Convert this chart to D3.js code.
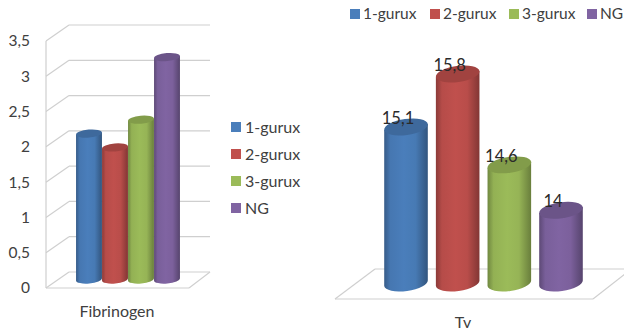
<!DOCTYPE html>
<html>
<head>
<meta charset="utf-8">
<style>
html,body{margin:0;padding:0;background:#fff}
svg{display:block}
text{font-family:Lato,"Open Sans",sans-serif;fill:#404040}
</style>
<script src="https://cdn.jsdelivr.net/npm/d3@7"></script>
</head>
<body>
<svg id="c" width="624" height="331"></svg>
<script>
// Shared series
const seriesNames = ["1-gurux", "2-gurux", "3-gurux", "NG"];
const seriesColors = ["#4a7ebb", "#c0504d", "#9bbb59", "#8064a2"];

// Fibrinogen panel
const fibrinogenValues = [2.1, 1.9, 2.3, 3.2];
const fibrinogenTicks = [0, 0.5, 1, 1.5, 2, 2.5, 3, 3.5];

// Tv panel
const tvValues = [15.1, 15.8, 14.6, 14];
const tvLabels = ["15,1", "15,8", "14,6", "14"];

const svg = d3.select("#c");
const defs = svg.append("defs");
const gridColor = "#cfcfcf";

const color = d3.scaleOrdinal().domain(seriesNames).range(seriesColors);

// Horizontal shading that gives each bar its rounded look
seriesNames.forEach((name, i) => {
  const base = d3.color(seriesColors[i]);
  const g = defs.append("linearGradient").attr("id", "cyl" + i);
  [[0, base.darker(0.9)], [0.14, base.darker(0.15)], [0.45, base], [0.72, base.darker(0.1)], [1, base.darker(1.1)]]
    .forEach(([o, c]) => g.append("stop").attr("offset", o).attr("stop-color", c));
});

// Draws one tilted cylinder from its base line to its value
function cylinder(layer, name, i, x0, w, yTop, yBase, ry, tiltDeg) {
  const rx = w / 2, cx = x0 + rx;
  const t = tiltDeg * Math.PI / 180;
  const dx = rx * Math.cos(t), dy = rx * Math.sin(t);
  const body = d3.path();
  body.moveTo(cx - dx, yTop + dy);
  body.lineTo(cx - dx, yBase + dy);
  const arc = `A${rx},${ry} ${-tiltDeg} 0 0 ${cx + dx},${yBase - dy}`;
  const rest = `L${cx + dx},${yTop - dy}Z`;
  layer.append("path").attr("d", body.toString() + arc + rest).attr("fill", `url(#cyl${i})`);
  layer.append("ellipse")
    .attr("rx", rx).attr("ry", ry)
    .attr("transform", `translate(${cx},${yTop}) rotate(${-tiltDeg})`)
    .attr("fill", d3.color(color(name)).darker(0.5));
}

function line(x1, y1, x2, y2) {
  svg.append("line").attr("x1", x1).attr("y1", y1).attr("x2", x2).attr("y2", y2)
    .attr("stroke", gridColor).attr("stroke-width", 1.2);
}

// ---- Fibrinogen ----
const fFront = d3.scaleLinear().domain([0, 3.5]).range([288, 41]);
const fBack = d3.scaleLinear().domain([0, 3.5]).range([272, 25]);
const fBar = d3.scaleLinear().domain([0, 3.5]).range([279.5, 36.25]);
const fX = d3.scaleBand().domain(seriesNames).range([76, 180]);

fibrinogenTicks.forEach(t => {
  line(46, fFront(t), 69, fBack(t));
  line(69, fBack(t), 210, fBack(t));
  svg.append("text").attr("x", 30).attr("y", fFront(t)).attr("dy", "0.35em")
    .attr("text-anchor", "end").attr("font-size", 15.5).text(String(t).replace(".", ","));
});
line(46, fFront(0), 46, fFront(3.5));
line(46, fFront(0), 189, fFront(0));
line(189, fFront(0), 210, fBack(0));

const fLayer = svg.append("g");
seriesNames.forEach((name, i) => {
  cylinder(fLayer, name, i, fX(name), fX.bandwidth(), fBar(fibrinogenValues[i]), fBar(0), 4, 5);
});

svg.append("text").attr("x", 117).attr("y", 311).attr("dy", "0.35em")
  .attr("text-anchor", "middle").attr("font-size", 16).text("Fibrinogen");

// Legend beside the Fibrinogen panel
const fLegendY = d3.scalePoint().domain(seriesNames).range([127, 208]);
seriesNames.forEach(name => {
  svg.append("rect").attr("x", 231).attr("y", fLegendY(name) - 5).attr("width", 10).attr("height", 10)
    .attr("fill", color(name));
  svg.append("text").attr("x", 245).attr("y", fLegendY(name)).attr("dy", "0.35em")
    .attr("font-size", 16).text(name);
});

// ---- Tv ----
const tvY = d3.scaleLinear().domain([13.04, 15.8]).range([283, 74]);
const tvX = d3.scaleBand().domain(seriesNames).range([384, 583]).paddingInner(0.148);

line(335, 299, 593, 299);
line(335, 299, 375, 269);
line(375, 269, 624, 269);
line(593, 299, 625, 274);

const tvLayer = svg.append("g");
seriesNames.forEach((name, i) => {
  cylinder(tvLayer, name, i, tvX(name), tvX.bandwidth(), tvY(tvValues[i]), tvY(13.04), 8, 8);
});
seriesNames.forEach((name, i) => {
  svg.append("text")
    .attr("x", tvX(name) + tvX.bandwidth() / 2 - 8)
    .attr("y", tvY(tvValues[i]) - 3)
    .attr("text-anchor", "middle").attr("font-size", 16.5).style("fill", "#2a2a2a")
    .text(tvLabels[i]);
});

svg.append("text").attr("x", 463).attr("y", 322).attr("dy", "0.35em")
  .attr("text-anchor", "middle").attr("font-size", 16).text("Tv");

// Legend across the top of the Tv panel
const tvLegendX = [350, 430, 509, 587];
seriesNames.forEach((name, i) => {
  svg.append("rect").attr("x", tvLegendX[i]).attr("y", 9).attr("width", 10).attr("height", 10)
    .attr("fill", color(name));
  svg.append("text").attr("x", tvLegendX[i] + 13).attr("y", 14).attr("dy", "0.35em")
    .attr("font-size", 15.5).text(name);
});
</script>
</body>
</html>
